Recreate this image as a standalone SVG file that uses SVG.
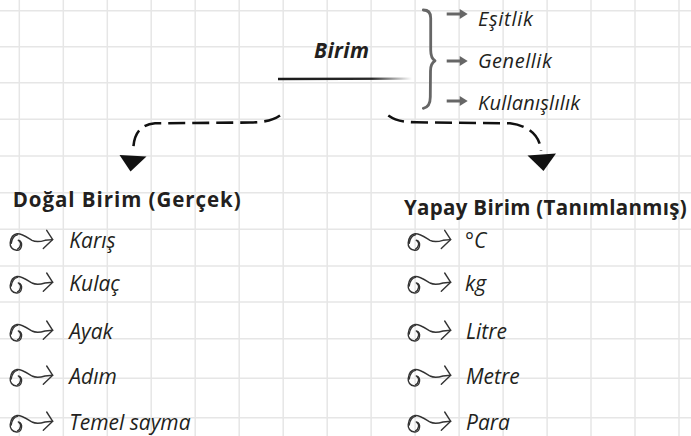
<svg xmlns="http://www.w3.org/2000/svg" width="691" height="436" viewBox="0 0 691 436">
  <style>
    .grid line { stroke: #e6e6e6; stroke-width: 1.5; }
    .hdr { font-family: "Open Sans", "Liberation Sans", sans-serif; font-weight: bold; font-size: 20.5px; fill: #231f20; }
    .itm { font-family: "Open Sans", "Liberation Sans", sans-serif; font-style: italic; font-size: 21px; fill: #231f20; }
    .top { font-family: "Open Sans", "Liberation Sans", sans-serif; font-style: italic; font-size: 20px; fill: #231f20; }
    .ttl { font-family: "Open Sans", "Liberation Sans", sans-serif; font-style: italic; font-weight: bold; font-size: 21px; fill: #231f20; }
    .dash { fill: none; stroke: #111; stroke-width: 2.6; stroke-dasharray: 17 7; stroke-linecap: butt; }
    .head { fill: #111; }
    .brace { fill: none; stroke: #666; stroke-width: 2.8; stroke-linecap: round; stroke-linejoin: round; }
    .sarrow { stroke: #666; stroke-width: 3; }
    .sarrowhead { fill: #666; }
    .curl { fill: none; stroke: #333; stroke-width: 1.4; stroke-linecap: round; stroke-linejoin: round; }
  </style>
  <defs>
    <linearGradient id="fade" x1="278" y1="0" x2="412" y2="0" gradientUnits="userSpaceOnUse">
      <stop offset="0" stop-color="#1a1a1a"/>
      <stop offset="0.7" stop-color="#2a2a2a"/>
      <stop offset="1" stop-color="#333" stop-opacity="0"/>
    </linearGradient>
    <g id="curl">
      <path class="curl" d="M9.3 0 C12 0.5 13 3 12.5 5.5 C12 8.5 10 10.2 7.5 10 C3 9.8 0.8 6 1.2 2.5 C1.8 -2.5 4 -6 8 -6.5 C13 -7 18 -3 23 0 C27 2 31 1.5 36 0 L43.7 -0.7"/>
      <path class="curl" d="M10.3 1 C12.5 2 12 7 8.5 8.8 M2.2 3 C3 -2 5 -5 8.5 -5.6"/>
      <path class="curl" d="M37.7 -10 L43.7 -0.7 L34.3 8.3"/>
    </g>
    <g id="sarr">
      <line class="sarrow" x1="0" y1="0" x2="15" y2="0"/>
      <polygon class="sarrowhead" points="13,-5 21,0 13,5"/>
    </g>
  </defs>

  <rect x="0" y="0" width="691" height="436" fill="#ffffff"/>

  <g class="grid">
    <line x1="19.3" y1="0" x2="19.3" y2="436"/>
    <line x1="63.3" y1="0" x2="63.3" y2="436"/>
    <line x1="107.3" y1="0" x2="107.3" y2="436"/>
    <line x1="151.2" y1="0" x2="151.2" y2="436"/>
    <line x1="195.2" y1="0" x2="195.2" y2="436"/>
    <line x1="239.2" y1="0" x2="239.2" y2="436"/>
    <line x1="283.2" y1="0" x2="283.2" y2="436"/>
    <line x1="327.2" y1="0" x2="327.2" y2="436"/>
    <line x1="371.1" y1="0" x2="371.1" y2="436"/>
    <line x1="415.1" y1="0" x2="415.1" y2="436"/>
    <line x1="459.1" y1="0" x2="459.1" y2="436"/>
    <line x1="503.1" y1="0" x2="503.1" y2="436"/>
    <line x1="547.1" y1="0" x2="547.1" y2="436"/>
    <line x1="591.0" y1="0" x2="591.0" y2="436"/>
    <line x1="635.0" y1="0" x2="635.0" y2="436"/>
    <line x1="679.0" y1="0" x2="679.0" y2="436"/>
    <line x1="0" y1="10.7" x2="691" y2="10.7"/>
    <line x1="0" y1="46.7" x2="691" y2="46.7"/>
    <line x1="0" y1="82.7" x2="691" y2="82.7"/>
    <line x1="0" y1="119.3" x2="691" y2="119.3"/>
    <line x1="0" y1="156" x2="691" y2="156"/>
    <line x1="0" y1="192.7" x2="691" y2="192.7"/>
    <line x1="0" y1="229.3" x2="691" y2="229.3"/>
    <line x1="0" y1="266" x2="691" y2="266"/>
    <line x1="0" y1="302" x2="691" y2="302"/>
    <line x1="0" y1="338.7" x2="691" y2="338.7"/>
    <line x1="0" y1="378.3" x2="691" y2="378.3"/>
    <line x1="0" y1="417.7" x2="691" y2="417.7"/>
  </g>

  <g id="node-birim">
    <text class="ttl" x="314" y="58" textLength="55">Birim</text>
    <path d="M278 79 L412 78.6" stroke="url(#fade)" stroke-width="2.4" fill="none"/>
  </g>

  <g id="node-properties">
    <path class="brace" d="M423.3 10 C428.5 10 430.7 12.5 430.7 18 L430.7 50 C430.7 56 432 59 435 60.7 C432 62.5 430.5 65 430.5 71 L430.3 97 C430.3 104 427.5 107.5 423.3 108.3"/>
    <use href="#sarr" x="446.7" y="14"/>
    <use href="#sarr" x="446.7" y="61"/>
    <use href="#sarr" x="446.7" y="101"/>
    <text class="top" x="478" y="26" textLength="54.7">Eşitlik</text>
    <text class="top" x="478" y="67.7" textLength="73.7">Genellik</text>
    <text class="top" x="478" y="109.7" textLength="102">Kullanışlılık</text>
  </g>

  <g id="connectors">
    <path class="dash" d="M280 115.5 C272 121 262 122.3 250 122.5 L155 123.3 C141 124.5 133.5 133 133.3 150"/>
    <polygon class="head" points="119.5,155 146.5,156.5 130.5,171.5"/>
    <path class="dash" d="M388.3 115.5 C396 121 404 122 416 122.3 L510 123.3 C528 125.5 540 135 541 151"/>
    <polygon class="head" points="527.5,155.5 556,153.5 543.5,171"/>
  </g>

  <g id="node-dogal">
    <text class="hdr" x="12.7" y="206.7" textLength="228">Doğal Birim (Gerçek)</text>
    <use href="#curl" x="9" y="240.3"/>
    <text class="itm" x="69.3" y="248.3">Karış</text>
    <use href="#curl" x="9" y="283"/>
    <text class="itm" x="69.3" y="291">Kulaç</text>
    <use href="#curl" x="9" y="331"/>
    <text class="itm" x="69.3" y="339">Ayak</text>
    <use href="#curl" x="9" y="376"/>
    <text class="itm" x="69.3" y="384">Adım</text>
    <use href="#curl" x="9" y="422"/>
    <text class="itm" x="69.3" y="430">Temel sayma</text>
  </g>

  <g id="node-yapay">
    <text class="hdr" x="404" y="215" textLength="282.7">Yapay Birim (Tanımlanmış)</text>
    <use href="#curl" x="407" y="240.3"/>
    <text class="itm" x="465" y="248.3">°C</text>
    <use href="#curl" x="407" y="283"/>
    <text class="itm" x="465" y="291">kg</text>
    <use href="#curl" x="407" y="331"/>
    <text class="itm" x="466" y="339">Litre</text>
    <use href="#curl" x="407" y="376"/>
    <text class="itm" x="466" y="384">Metre</text>
    <use href="#curl" x="407" y="422"/>
    <text class="itm" x="466" y="430">Para</text>
  </g>
</svg>
